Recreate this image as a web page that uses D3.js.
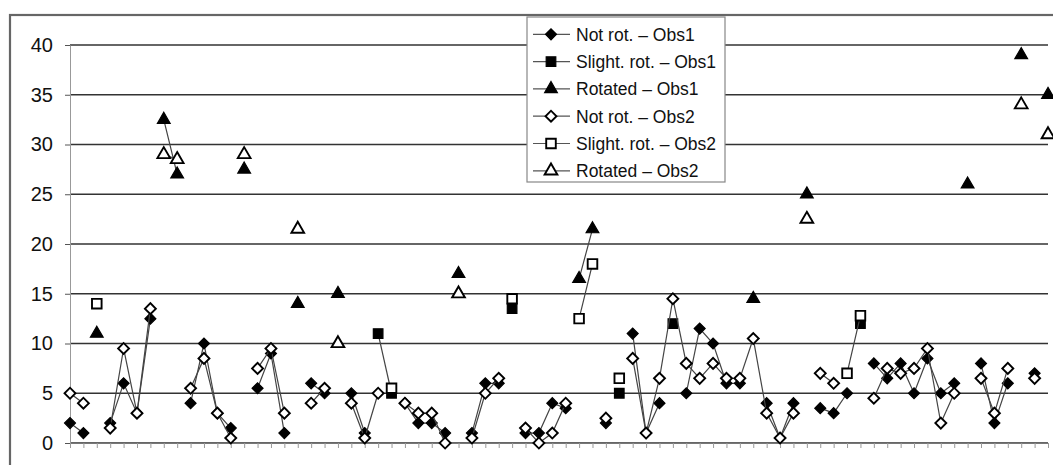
<!DOCTYPE html>
<html>
<head>
<meta charset="utf-8">
<script src="https://cdn.jsdelivr.net/npm/d3@7/dist/d3.min.js"></script>
<style>
  body { margin: 0; background: #fff; }
  svg { display: block; font-family: Arial, "Liberation Sans", sans-serif; }
</style>
</head>
<body>
<div id="chart"></div>
<script>
const _ = null

// one category per subject, 74 in all
const categories = d3.range(1, 75)
const yTicks = [0, 5, 10, 15, 20, 25, 30, 35, 40]

const notRotObs1 = [
  2, 1, _, 2, 6, 3, 12.5, _, _, 4,
  10, 3, 1.5, _, 5.5, 9, 1, _, 6, 5,
  _, 5, 1, _, _, 4, 2, 2, 1, _,
  1, 6, 6, _, 1, 1, 4, 3.5, _, _,
  2, _, 11, 1, 4, _, 5, 11.5, 10, 6,
  6, _, 4, 0.5, 4, _, 3.5, 3, 5, _,
  8, 6.5, 8, 5, 8.5, 5, 6, _, 8, 2,
  6, _, 7, _
]
const slightObs1 = [
  _, _, _, _, _, _, _, _, _, _,
  _, _, _, _, _, _, _, _, _, _,
  _, _, _, 11, 5, _, _, _, _, _,
  _, _, _, 13.5, _, _, _, _, _, _,
  _, 5, _, _, _, 12, _, _, _, _,
  _, _, _, _, _, _, _, _, _, 12,
  _, _, _, _, _, _, _, _, _, _,
  _, _, _, _
]
const rotatedObs1 = [
  _, _, 11, _, _, _, _, 32.5, 27, _,
  _, _, _, 27.5, _, _, _, 14, _, _,
  15, _, _, _, _, _, _, _, _, 17,
  _, _, _, _, _, _, _, _, 16.5, 21.5,
  _, _, _, _, _, _, _, _, _, _,
  _, 14.5, _, _, _, 25, _, _, _, _,
  _, _, _, _, _, _, _, 26, _, _,
  _, 39, _, 35
]
const notRotObs2 = [
  5, 4, _, 1.5, 9.5, 3, 13.5, _, _, 5.5,
  8.5, 3, 0.5, _, 7.5, 9.5, 3, _, 4, 5.5,
  _, 4, 0.5, 5, _, 4, 3, 3, 0, _,
  0.5, 5, 6.5, _, 1.5, 0, 1, 4, _, _,
  2.5, _, 8.5, 1, 6.5, 14.5, 8, 6.5, 8, 6.5,
  6.5, 10.5, 3, 0.5, 3, _, 7, 6, _, _,
  4.5, 7.5, 7, 7.5, 9.5, 2, 5, _, 6.5, 3,
  7.5, _, 6.5, _
]
const slightObs2 = [
  _, _, 14, _, _, _, _, _, _, _,
  _, _, _, _, _, _, _, _, _, _,
  _, _, _, _, 5.5, _, _, _, _, _,
  _, _, _, 14.5, _, _, _, _, 12.5, 18,
  _, 6.5, _, _, _, _, _, _, _, _,
  _, _, _, _, _, _, _, _, 7, 12.8,
  _, _, _, _, _, _, _, _, _, _,
  _, _, _, _
]
const rotatedObs2 = [
  _, _, _, _, _, _, _, 29, 28.5, _,
  _, _, _, 29, _, _, _, 21.5, _, _,
  10, _, _, _, _, _, _, _, _, 15,
  _, _, _, _, _, _, _, _, _, _,
  _, _, _, _, _, _, _, _, _, _,
  _, _, _, _, _, 22.5, _, _, _, _,
  _, _, _, _, _, _, _, _, _, _,
  _, 34, _, 31
]

const seriesNames = [
  'Not rot. \u2013 Obs1', 'Slight. rot. \u2013 Obs1', 'Rotated \u2013 Obs1',
  'Not rot. \u2013 Obs2', 'Slight. rot. \u2013 Obs2', 'Rotated \u2013 Obs2'
]
const seriesValues = [notRotObs1, slightObs1, rotatedObs1, notRotObs2, slightObs2, rotatedObs2]

const series = seriesNames.map((name, k) => ({
  name,
  values: seriesValues[k],
  shape: ['diamond', 'square', 'triangle'][k % 3],
  filled: k < 3
}))

const width = 1053
const height = 465
const plot = { left: 70, right: 1048, top: 45, bottom: 443 }

const svg = d3.select('#chart')
  .append('svg')
  .attr('width', width)
  .attr('height', height)

// outer chart frame
svg.append('rect')
  .attr('x', 10).attr('y', 15)
  .attr('width', 1100).attr('height', 500)
  .attr('fill', '#fff')
  .attr('stroke', '#666')
  .attr('stroke-width', 2.2)

const xScale = d3.scalePoint()
  .domain(categories)
  .range([plot.left, plot.right])

const yScale = d3.scaleLinear()
  .domain([0, 40])
  .range([plot.bottom, plot.top])

// gridlines
svg.append('g')
  .selectAll('line')
  .data(yTicks)
  .join('line')
  .attr('x1', plot.left).attr('x2', plot.right)
  .attr('y1', d => yScale(d)).attr('y2', d => yScale(d))
  .attr('stroke', '#333')
  .attr('stroke-width', 1.5)

// y axis
const yAxis = svg.append('g')
  .attr('transform', `translate(${plot.left},0)`)
  .call(d3.axisLeft(yScale).tickValues(yTicks).tickSize(5).tickPadding(12).tickSizeOuter(0))
yAxis.select('.domain').attr('stroke', '#999')
yAxis.selectAll('.tick line').attr('stroke', '#555')
yAxis.selectAll('text')
  .attr('font-size', 20)
  .attr('fill', '#111')
  .attr('font-family', 'Arial, "Liberation Sans", sans-serif')

// x axis, tick per category, no labels
const xAxis = svg.append('g')
  .attr('transform', `translate(0,${plot.bottom})`)
  .call(d3.axisBottom(xScale).tickSize(5).tickFormat('').tickSizeOuter(0))
xAxis.select('.domain').attr('stroke', '#777')
xAxis.selectAll('.tick line').attr('stroke', '#999')

function markerPath(shape) {
  if (shape === 'diamond') return d3.symbol(d3.symbolSquare, 60)()
  if (shape === 'square') return d3.symbol(d3.symbolSquare, 92)()
  return d3.symbol(d3.symbolTriangle, 70)()
}

function drawMarker(g, s) {
  g.append('path')
    .attr('d', markerPath(s.shape))
    .attr('transform', s.shape === 'diamond' ? 'rotate(45)' : null)
    .attr('fill', s.filled ? '#000' : '#fff')
    .attr('stroke', '#000')
    .attr('stroke-width', s.filled ? 1.2 : 1.9)
}

const line = d3.line()
  .defined(d => d.v != null)
  .x(d => xScale(d.c))
  .y(d => yScale(d.v))

series.forEach(s => {
  const pts = s.values.map((v, i) => ({ c: categories[i], v }))
  const g = svg.append('g')
  g.append('path')
    .datum(pts)
    .attr('d', line)
    .attr('fill', 'none')
    .attr('stroke', '#444')
    .attr('stroke-width', 1.2)
  g.selectAll('g.pt')
    .data(pts.filter(d => d.v != null))
    .join('g')
    .attr('class', 'pt')
    .attr('transform', d => `translate(${xScale(d.c)},${yScale(d.v)})`)
    .each(function () { drawMarker(d3.select(this), s) })
})

// legend
const legend = svg.append('g').attr('transform', 'translate(527,17)')
legend.append('rect')
  .attr('width', 198).attr('height', 165)
  .attr('fill', '#fff')
  .attr('stroke', '#888')
  .attr('stroke-width', 1.2)

const rows = legend.selectAll('g.row')
  .data(series)
  .join('g')
  .attr('class', 'row')
  .attr('transform', (d, i) => `translate(0,${17.3 + i * 27.3})`)

rows.append('line')
  .attr('x1', 6).attr('x2', 43)
  .attr('stroke', '#555')
  .attr('stroke-width', 1.2)
rows.append('g')
  .attr('transform', 'translate(24,0)')
  .each(function (d) { drawMarker(d3.select(this), d) })
rows.append('text')
  .attr('x', 49)
  .attr('dy', '0.36em')
  .attr('font-size', 17.5)
  .attr('fill', '#111')
  .text(d => d.name)
</script>
</body>
</html>
